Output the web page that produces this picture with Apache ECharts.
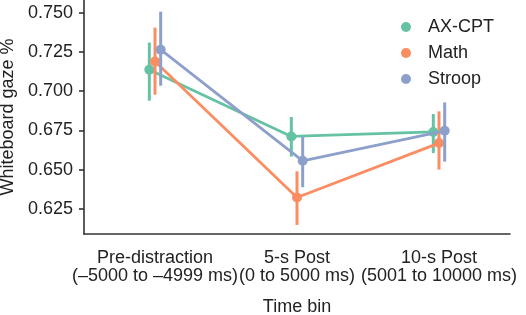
<!DOCTYPE html>
<html>
<head>
<meta charset="utf-8">
<script src="https://cdn.jsdelivr.net/npm/echarts@6/dist/echarts.min.js"></script>
<style>
  html, body { margin: 0; padding: 0; background: #fff; }
  #chart { width: 526px; height: 315px; }
</style>
</head>
<body>
<div id="chart"></div>
<script>
// time bins on the x axis
const categories = [
  'Pre-distraction\n(\u20135000 to \u20134999 ms)',
  '5-s Post\n(0 to 5000 ms)',
  '10-s Post\n(5001 to 10000 ms)'
];
const seriesNames = ['AX-CPT', 'Math', 'Stroop'];

// point estimates + error bar ends
const axcptMean = [0.7136, 0.6711, 0.6740];
const axcptLow = [0.6939, 0.6583, 0.6605];
const axcptHigh = [0.7309, 0.6835, 0.6854];

const mathMean = [0.7188, 0.6322, 0.6669];
const mathLow = [0.6977, 0.6148, 0.6500];
const mathHigh = [0.7404, 0.6489, 0.6871];

const stroopMean = [0.7264, 0.6556, 0.6747];
const stroopLow = [0.7034, 0.6388, 0.6551];
const stroopHigh = [0.7506, 0.6711, 0.6928];

const yTicks = [0.625, 0.650, 0.675, 0.700, 0.725, 0.750];

const colors = ['#66c2a5', '#fc8d62', '#8da0cb'];
const groups = [
  {mean: axcptMean, low: axcptLow, high: axcptHigh},
  {mean: mathMean, low: mathLow, high: mathHigh},
  {mean: stroopMean, low: stroopLow, high: stroopHigh}
];
const dodge = 0.04; // seaborn pointplot dodge
const font = 'Liberation Sans, Arial, Helvetica, sans-serif';

let chart = echarts.init(document.getElementById('chart'), null, {renderer: 'canvas'});

let series = [];
groups.forEach((g, k) => {
  let off = (k - 1) * dodge;
  let pts = g.mean.map((v, i) => [i + off, v]);
  let errs = g.mean.map((v, i) => [i + off, g.low[i], g.high[i]]);
  series.push({
    name: seriesNames[k],
    type: 'line',
    xAxisIndex: 1,
    data: pts,
    symbol: 'circle',
    symbolSize: 10,
    lineStyle: {color: colors[k], width: 2.8},
    itemStyle: {color: colors[k]},
    animation: false,
    z: 2 + k
  });
  series.push({
    name: seriesNames[k],
    type: 'custom',
    xAxisIndex: 1,
    data: errs,
    encode: {x: 0, y: [1, 2]},
    renderItem: function (params, api) {
      let x = api.value(0);
      let lo = api.coord([x, api.value(1)]);
      let hi = api.coord([x, api.value(2)]);
      return {
        type: 'line',
        shape: {x1: lo[0], y1: lo[1], x2: hi[0], y2: hi[1]},
        style: {stroke: colors[k], lineWidth: 3}
      };
    },
    animation: false,
    z: 2 + k
  });
});

chart.setOption({
  backgroundColor: '#fff',
  animation: false,
  color: colors,
  grid: {left: 84, right: 16, top: 0, bottom: 81, containLabel: false, outerBoundsMode: 'none'},
  legend: {
    data: seriesNames.map(n => ({name: n, icon: 'circle'})),
    orient: 'vertical',
    left: 396,
    top: 13,
    itemWidth: 34,
    itemHeight: 10,
    itemGap: 8,
    textStyle: {fontFamily: font, fontSize: 18, color: '#222'}
  },
  xAxis: [{
    type: 'category',
    data: categories,
    boundaryGap: true,
    name: 'Time bin',
    nameLocation: 'middle',
    nameGap: 64,
    nameTextStyle: {fontFamily: font, fontSize: 18, color: '#222'},
    axisLine: {lineStyle: {color: '#333', width: 1.6}},
    axisTick: {alignWithLabel: true, length: 5, lineStyle: {color: '#333', width: 1.6}},
    axisLabel: {fontFamily: font, fontSize: 18, color: '#222', margin: 15, lineHeight: 18, interval: 0},
    splitLine: {show: false}
  }, {
    type: 'value',
    min: -0.5,
    max: 2.5,
    show: false
  }],
  yAxis: {
    type: 'value',
    min: 0.609,
    max: 0.758,
    name: 'Whiteboard gaze %',
    nameLocation: 'middle',
    nameGap: 62,
    nameTextStyle: {fontFamily: font, fontSize: 18, color: '#222'},
    axisLine: {show: true, onZero: false, lineStyle: {color: '#333', width: 1.6}},
    axisTick: {show: true, length: 5, customValues: yTicks, lineStyle: {color: '#333', width: 1.6}},
    axisLabel: {
      fontFamily: font, fontSize: 18, color: '#222', margin: 11,
      customValues: yTicks,
      formatter: v => v.toFixed(3)
    },
    splitLine: {show: false}
  },
  series: series
});
</script>
</body>
</html>
